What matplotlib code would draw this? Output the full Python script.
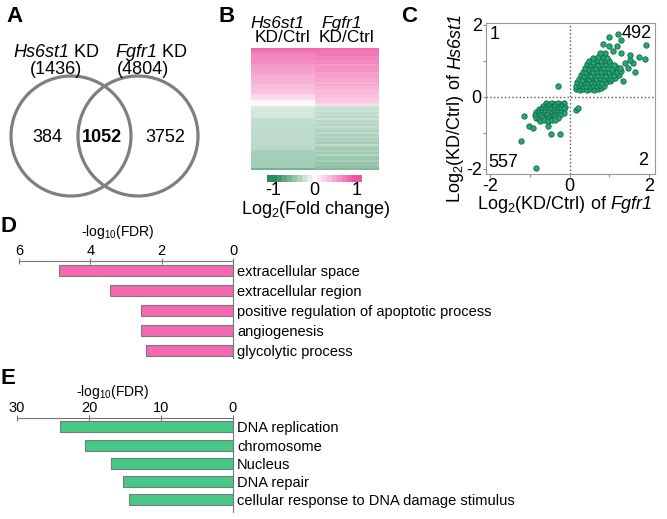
import numpy as np
import matplotlib
matplotlib.use("Agg")
import matplotlib.pyplot as plt
from matplotlib.colors import LinearSegmentedColormap
from matplotlib.patches import Circle

plt.rcParams['font.family'] = ['Liberation Sans', 'DejaVu Sans']
plt.rcParams['mathtext.fontset'] = 'custom'
plt.rcParams['mathtext.rm'] = 'Liberation Sans'
plt.rcParams['mathtext.it'] = 'Liberation Sans:italic'
plt.rcParams['mathtext.bf'] = 'Liberation Sans:bold'

W, H = 667, 519

# ==============================
# Data
# ==============================

# A: Venn counts
venn_names = ["Hs6st1", "Fgfr1"]
venn_totals = [1436, 4804]
venn_only = [384, 3752]
venn_shared = 1052

# B: heatmap rows (sorted by Hs6st1 fold change)
hs6st1_fc = [0.88, 0.82, 0.76,
             0.71, 0.70, 0.69, 0.68, 0.67,
             0.59, 0.58, 0.57, 0.56, 0.55,
             0.48, 0.47, 0.46, 0.45, 0.44,
             0.38, 0.37, 0.36, 0.35, 0.34,
             0.23, 0.21, 0.19,
             0.06, 0.04, 0.03,
             -0.17, -0.18, -0.18, -0.19, -0.19, -0.20,
             -0.28, -0.28, -0.29, -0.29, -0.29, -0.29, -0.30, -0.30,
             -0.30, -0.30, -0.31, -0.31, -0.31, -0.32, -0.32, -0.32,
             -0.41, -0.41, -0.42, -0.42, -0.42, -0.43, -0.43, -0.44, -0.44,
             -0.65]
fgfr1_fc = [0.85, 0.82, 0.78, 0.80, 0.72, 0.75, 0.68, 0.70, 0.60, 0.66,
            0.62, 0.64, 0.55, 0.60, 0.56, 0.50, 0.54, 0.46, 0.50, 0.44,
            0.45, 0.38, 0.42, 0.36, 0.38, 0.30, 0.32, 0.26, 0.20,
            -0.25, -0.28, -0.22, -0.30, -0.27, -0.32, -0.24, -0.33, -0.30, -0.35,
            -0.28, -0.34, -0.36, -0.30, -0.38, -0.33, -0.40, -0.36, -0.42, -0.30,
            -0.40, -0.44, -0.38, -0.45, -0.35, -0.46, -0.48, -0.40, -0.50, -0.47,
            -0.52, -0.58]

# C: scatter (Fgfr1 log2FC, Hs6st1 log2FC)
up_pts = [(0.17, 0.21), (0.26, 0.19), (0.35, 0.22), (0.44, 0.20), (0.53, 0.23), (0.62, 0.20), (0.71, 0.22), (0.80, 0.24),
          (0.16, 0.30), (0.25, 0.32), (0.33, 0.29), (0.42, 0.31), (0.51, 0.30), (0.60, 0.33), (0.69, 0.30), (0.78, 0.32), (0.88, 0.31),
          (0.19, 0.40), (0.28, 0.38), (0.37, 0.41), (0.46, 0.39), (0.55, 0.42), (0.64, 0.40), (0.73, 0.41), (0.82, 0.39), (0.92, 0.42), (1.02, 0.44),
          (0.23, 0.50), (0.32, 0.48), (0.41, 0.51), (0.50, 0.49), (0.59, 0.52), (0.68, 0.50), (0.77, 0.51), (0.87, 0.49), (0.97, 0.52), (1.08, 0.50), (1.16, 0.53),
          (0.28, 0.60), (0.37, 0.58), (0.46, 0.61), (0.55, 0.59), (0.64, 0.62), (0.73, 0.60), (0.83, 0.61), (0.93, 0.58), (1.03, 0.62), (1.13, 0.60), (1.24, 0.62),
          (0.33, 0.70), (0.42, 0.68), (0.51, 0.71), (0.60, 0.69), (0.70, 0.72), (0.80, 0.70), (0.90, 0.71), (1.00, 0.68), (1.10, 0.72), (1.21, 0.70), (1.30, 0.73),
          (0.39, 0.80), (0.48, 0.78), (0.57, 0.81), (0.67, 0.79), (0.77, 0.82), (0.87, 0.80), (0.97, 0.81), (1.07, 0.78), (1.18, 0.82), (1.28, 0.80),
          (0.45, 0.90), (0.54, 0.88), (0.63, 0.91), (0.73, 0.89), (0.83, 0.92), (0.93, 0.90), (1.03, 0.91), (1.13, 0.88),
          (0.50, 1.00), (0.60, 0.98), (0.70, 1.01), (0.80, 0.99), (0.90, 1.02), (1.00, 1.00),
          (0.60, 1.09), (0.72, 1.10), (0.84, 1.12), (0.95, 1.08),
          (1.01, 1.66), (1.22, 1.75), (1.31, 1.57), (0.84, 1.47), (1.01, 1.42), (1.20, 1.42),
          (1.94, 1.44), (0.89, 1.21), (1.10, 1.26), (1.31, 1.21), (1.90, 1.05), (1.76, 1.12),
          (1.52, 1.17), (1.60, 0.93), (1.48, 0.80), (1.65, 0.68), (1.35, 0.44), (1.52, 1.03),
          (0.76, 1.21), (1.40, 0.95)]
down_pts = [(-0.60, -0.18), (-0.52, -0.20), (-0.44, -0.17), (-0.36, -0.19), (-0.28, -0.17), (-0.20, -0.20), (-0.13, -0.18),
            (-0.68, -0.26), (-0.60, -0.27), (-0.52, -0.25), (-0.44, -0.28), (-0.36, -0.26), (-0.28, -0.27), (-0.20, -0.25), (-0.12, -0.27),
            (-0.78, -0.34), (-0.70, -0.35), (-0.62, -0.33), (-0.54, -0.35), (-0.46, -0.34), (-0.38, -0.36), (-0.30, -0.33), (-0.22, -0.35), (-0.14, -0.34),
            (-0.85, -0.42), (-0.77, -0.43), (-0.69, -0.41), (-0.61, -0.43), (-0.53, -0.42), (-0.45, -0.44), (-0.37, -0.41), (-0.29, -0.43), (-0.21, -0.42), (-0.15, -0.44),
            (-0.88, -0.50), (-0.80, -0.52), (-0.72, -0.49), (-0.64, -0.51), (-0.56, -0.50), (-0.48, -0.52), (-0.40, -0.49), (-0.32, -0.51), (-0.24, -0.50),
            (-0.84, -0.58), (-0.76, -0.60), (-0.68, -0.57), (-0.60, -0.59), (-0.52, -0.58), (-0.44, -0.60), (-0.36, -0.57), (-0.28, -0.59),
            (-0.74, -0.66), (-0.64, -0.64), (-0.54, -0.67), (-0.44, -0.65), (-0.36, -0.64),
            (-1.14, -0.53), (-1.03, -0.81), (-0.91, -0.87), (-0.55, -0.80), (-0.46, -1.02),
            (-0.25, -1.04), (-1.22, -1.23), (-0.84, -1.98), (-0.30, 0.31), (0.17, -0.36), (0.22, -0.30)]
quad_counts = [1, 492, 557, 2]  # UL, UR, LL, LR

# D / E: GO terms
go_up_terms = ["extracellular space", "extracellular region",
               "positive regulation of apoptotic process", "angiogenesis",
               "glycolytic process"]
go_up_val = [4.87, 3.45, 2.58, 2.58, 2.44]
go_down_terms = ["DNA replication", "chromosome", "Nucleus", "DNA repair",
                 "cellular response to DNA damage stimulus"]
go_down_val = [24.0, 20.6, 17.0, 15.3, 14.5]

# ==============================
# Figure
# ==============================
fig = plt.figure(figsize=(W / 100, H / 100), dpi=100)
renderer = fig.canvas.get_renderer()


def rect(x0, y0, x1, y1):
    # pixel box (from top-left) -> figure fraction
    return [x0 / W, 1 - y1 / H, (x1 - x0) / W, (y1 - y0) / H]


def letter(px, py, s):
    fig.text(px / W, 1 - py / H, s, fontsize=16, fontweight='bold', va='top')


def rich_text(cx, base, pieces, size, rotation=0):
    # pieces of mixed style on one baseline, centred on cx (along the text direction)
    texts, widths = [], []
    for s, st in pieces:
        t = fig.text(0, 0, s, fontsize=size, style=st, ha='left', va='baseline',
                     rotation_mode='anchor')
        widths.append(t.get_window_extent(renderer).width)
        t.set_rotation(rotation)
        texts.append(t)
    off = -sum(widths) / 2
    for t, w in zip(texts, widths):
        if rotation == 0:
            t.set_position(((cx + off) / W, 1 - base / H))
        else:
            t.set_position((base / W, 1 - (cx - off) / H))
        off += w


# ---- A: Venn ----
ax_v = fig.add_axes(rect(0, 40, 220, 205))
ax_v.set_xlim(0, 220)
ax_v.set_ylim(205, 40)
ax_v.axis('off')
for cx in (71, 138):
    ax_v.add_patch(Circle((cx, 136), 60, fill=False, edgecolor='#7f7f7f', lw=2.3))
rich_text(56, 57, [(venn_names[0], 'italic'), (" KD", 'normal')], 13)
rich_text(151, 57, [(venn_names[1], 'italic'), (" KD", 'normal')], 13)
ax_v.text(56, 70, "(%d)" % venn_totals[0], fontsize=13, ha='center', va='center')
ax_v.text(143, 70, "(%d)" % venn_totals[1], fontsize=13, ha='center', va='center')
ax_v.text(47, 137, str(venn_only[0]), fontsize=13, ha='center', va='center')
ax_v.text(102, 137, str(venn_shared), fontsize=13, fontweight='bold', ha='center', va='center')
ax_v.text(165, 137, str(venn_only[1]), fontsize=13, ha='center', va='center')

# ---- B: heatmap ----
cmap = LinearSegmentedColormap.from_list('gp', ['#2b8a56', '#ffffff', '#ee55a4'])
ax_h = fig.add_axes(rect(251, 48, 379, 170))
heat = np.column_stack([hs6st1_fc, fgfr1_fc])
ax_h.imshow(heat, cmap=cmap, vmin=-1, vmax=1, aspect='auto', interpolation='nearest')
ax_h.axis('off')
fig.text(278 / W, 1 - 28 / H, "Hs6st1", fontsize=12.5, style='italic', ha='center', va='baseline')
fig.text(283 / W, 1 - 42 / H, "KD/Ctrl", fontsize=12.5, ha='center', va='baseline')
fig.text(342 / W, 1 - 28 / H, "Fgfr1", fontsize=12.5, style='italic', ha='center', va='baseline')
fig.text(347 / W, 1 - 42 / H, "KD/Ctrl", fontsize=12.5, ha='center', va='baseline')

ax_cb = fig.add_axes(rect(267, 175, 362, 182))
steps = np.linspace(-1.14, 1.14, 19)
ax_cb.imshow(steps[None, :], cmap=cmap, vmin=-1, vmax=1, aspect='auto',
             extent=(-1.14, 1.14, 0, 1), interpolation='nearest')
ax_cb.set_yticks([])
ax_cb.set_xticks([-1, 0, 1])
ax_cb.set_xticklabels(['-1', '0', '1'])
ax_cb.tick_params(axis='x', length=0, labelsize=13, pad=0)
for s in ax_cb.spines.values():
    s.set_visible(False)
fig.text(316 / W, 1 - 214 / H, "Log$_2$(Fold change)", fontsize=13, ha='center', va='baseline')

# ---- C: scatter ----
ax_s = fig.add_axes(rect(486, 23, 655, 174))
ux, uy = zip(*up_pts)
dx, dy = zip(*down_pts)
for xs, ys in ((ux, uy), (dx, dy)):
    ax_s.scatter(xs, ys, s=15, c='#27a676', edgecolors='#136b47', linewidths=0.6, zorder=3)
ax_s.axvline(0, color='#555555', ls=':', lw=1, zorder=1)
ax_s.axhline(0, color='#555555', ls=':', lw=1, zorder=1)
ax_s.set_xlim(-2.11, 2.16)
ax_s.set_ylim(-2.14, 2.05)
ax_s.set_xticks([-2, -1, 0, 1, 2])
ax_s.set_xticklabels(['-2', '', '0', '', '2'])
ax_s.set_yticks([-2, -1, 0, 1, 2])
ax_s.set_yticklabels(['-2', '', '0', '', '2'])
ax_s.tick_params(length=2.5, color='#888888', labelsize=13, pad=0.5)
for s in ax_s.spines.values():
    s.set_color('#999999')
    s.set_linewidth(0.8)
rich_text(565, 209, [("Log$_2$(KD/Ctrl)", 'normal'), (" of ", 'normal'), (venn_names[1], 'italic')], 13)
rich_text(108, 460, [("Log$_2$(KD/Ctrl)", 'normal'), (" of ", 'normal'), (venn_names[0], 'italic')], 13,
          rotation=90)
ax_s.text(0.024, 0.98, str(quad_counts[0]), transform=ax_s.transAxes, fontsize=13, ha='left', va='top')
ax_s.text(0.98, 0.99, str(quad_counts[1]), transform=ax_s.transAxes, fontsize=13, ha='right', va='top')
ax_s.text(0.012, 0.02, str(quad_counts[2]), transform=ax_s.transAxes, fontsize=13, ha='left', va='bottom')
ax_s.text(0.96, 0.03, str(quad_counts[3]), transform=ax_s.transAxes, fontsize=13, ha='right', va='bottom')


# ---- D / E: GO bars ----
def go_panel(box, terms, vals, color, xmax, ticks, ylim, bar_h):
    ax = fig.add_axes(box)
    ypos = np.arange(len(terms))
    ax.barh(ypos, vals, height=bar_h, color=color, edgecolor='#7a7a7a', linewidth=0.8)
    ax.set_xlim(xmax, 0)
    ax.set_ylim(*ylim)
    ax.xaxis.tick_top()
    ax.set_xticks(ticks)
    ax.tick_params(axis='x', direction='inout', length=5, color='#777777', labelsize=10.5, pad=0)
    ax.yaxis.tick_right()
    ax.set_yticks(ypos)
    ax.set_yticklabels(terms)
    ax.tick_params(axis='y', length=0, labelsize=10.5, pad=3)
    for s in ('left', 'bottom'):
        ax.spines[s].set_visible(False)
    for s in ('top', 'right'):
        ax.spines[s].set_color('#777777')
    return ax


go_panel(rect(19, 261, 233, 358), go_up_terms, go_up_val, '#f469b0', 6, [6, 4, 2, 0],
         (4.375, -0.475), 0.55)
fig.text(118 / W, 1 - 236 / H, "-log$_{10}$(FDR)", fontsize=10, ha='center', va='baseline')

go_panel(rect(17, 418, 233, 512), go_down_terms, go_down_val, '#46c887', 30, [30, 20, 10, 0],
         (4.66, -0.49), 0.6)
fig.text(113 / W, 1 - 396 / H, "-log$_{10}$(FDR)", fontsize=10, ha='center', va='baseline')

letter(6, 6, 'A')
letter(219, 6, 'B')
letter(401, 6, 'C')
letter(1, 216, 'D')
letter(1, 368, 'E')

fig.savefig("out.png", dpi=100)
